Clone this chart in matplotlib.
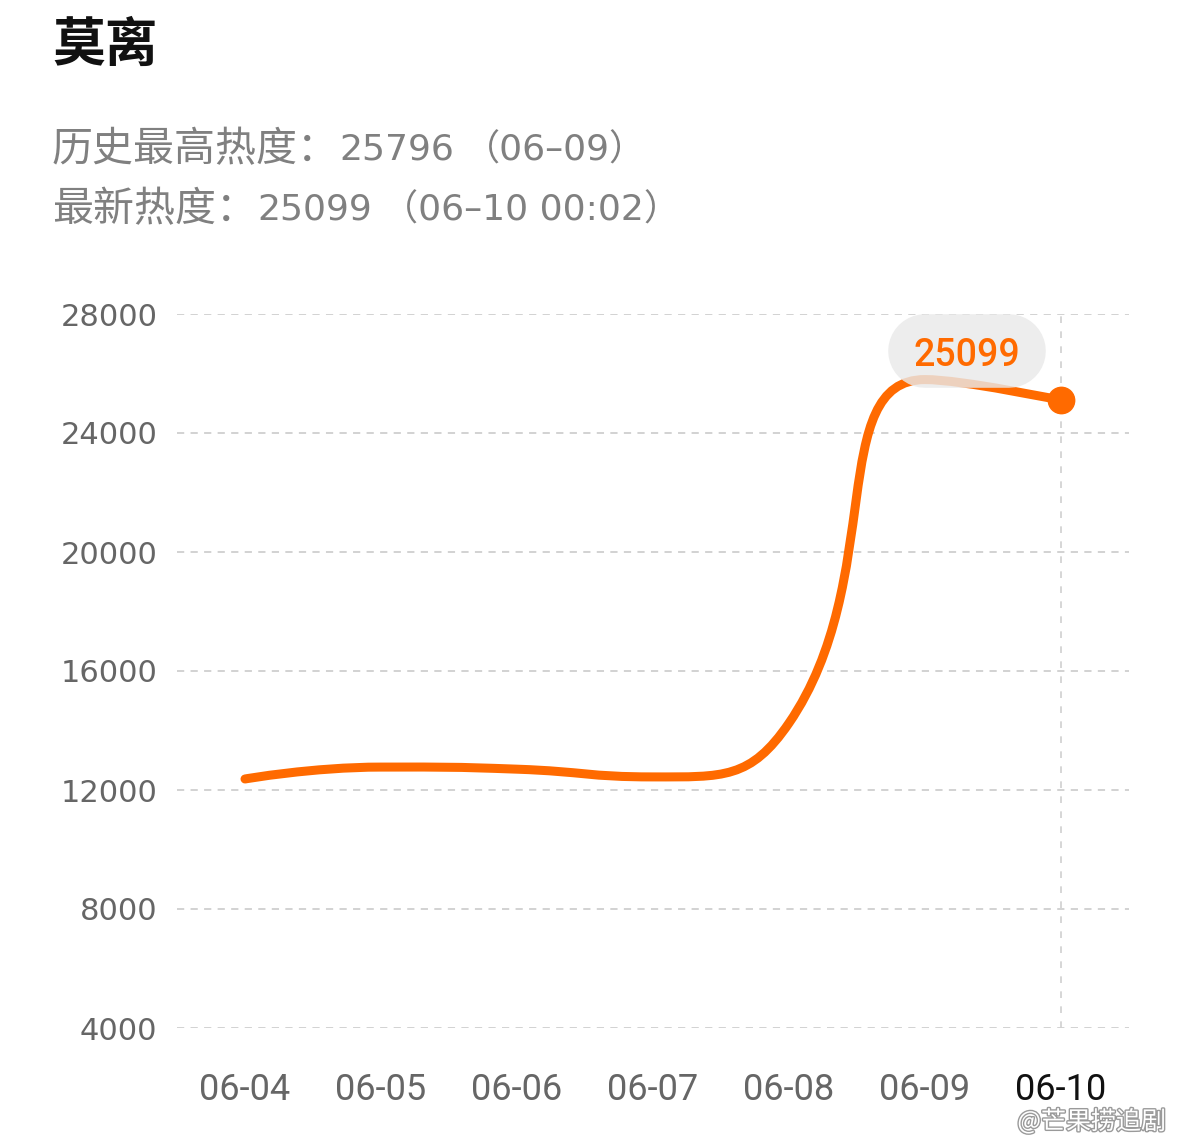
import numpy as np
import matplotlib
matplotlib.use("Agg")
import matplotlib.pyplot as plt
from matplotlib.path import Path
from matplotlib.patches import PathPatch
from matplotlib.lines import Line2D
from matplotlib.transforms import IdentityTransform
import matplotlib.patheffects as pe

plt.rcParams['font.family'] = ['Noto Sans CJK SC', 'DejaVu Sans']

# data
dates = ['06-04', '06-05', '06-06', '06-07', '06-08', '06-09', '06-10']
heat = [12370, 12770, 12700, 12440, 14250, 25796, 25099]
yticks = [4000, 8000, 12000, 16000, 20000, 24000, 28000]
title = '莫离'
line1 = ['历史最高热度：', '25796', '（06–09）']
line2 = ['最新热度：', '25099', '（06–10 00:02）']
latest_label = '25099'

ORANGE = '#ff6a00'
W, H = 1179, 1147

fig = plt.figure(figsize=(W / 100, H / 100), dpi=100)
ax = fig.add_axes([177 / W, 1 - 1028 / H, 952 / W, 714 / H])
x = np.arange(len(dates))
ax.set_xlim(-0.5, len(dates) - 0.5)
ax.set_ylim(4000, 28000)

for s in ax.spines.values():
    s.set_visible(False)
ax.set_yticks(yticks)
ax.set_yticklabels([str(v) for v in yticks], family='DejaVu Sans', fontsize=22, color='#666666')
ax.set_xticks(x)
ax.set_xticklabels(dates, family='Roboto', fontsize=26, color='#666666')
ax.get_xticklabels()[-1].set_color('#111111')
ax.tick_params(length=0)
ax.tick_params(axis='y', pad=14)
ax.tick_params(axis='x', pad=32)
for v in yticks:
    ax.axhline(v, color='#cfcfcf', lw=1.3, ls=(0, (4, 3.5)), zorder=1)
ax.plot([x[-1], x[-1]], [4000, 28000], color='#d0d0d0', lw=1.2, ls=(0, (4, 5)), zorder=1)


def smooth_path(xs, ys, smooth=0.5):
    # bezier smoothing in screen space; flat tangent at local peaks/dips
    pts = ax.transData.transform(np.column_stack([xs, ys]))
    verts = [pts[0]]
    codes = [Path.MOVETO]
    cp0 = pts[0].copy()
    n = len(pts)
    for i in range(1, n):
        p = pts[i]
        prev = pts[i - 1]
        if i == n - 1:
            ncp0 = p.copy()
            ncp1 = p.copy()
        else:
            nxt = pts[i + 1]
            v = nxt - prev
            if (p[1] - prev[1]) * (nxt[1] - p[1]) <= 0:
                v[1] = 0
            l0 = np.hypot(*(p - prev))
            l1 = np.hypot(*(nxt - p))
            r = l1 / (l0 + l1)
            ncp0 = p - v * smooth * (1 - r)
            ncp1 = p + v * smooth * r
        verts += [cp0, ncp0, p]
        codes += [Path.CURVE4] * 3
        cp0 = ncp1
    verts = ax.transData.inverted().transform(np.array(verts))
    return Path(verts, codes)


ax.add_patch(PathPatch(smooth_path(x, heat), fc='none', ec=ORANGE, lw=6.5,
                       capstyle='round', joinstyle='round', zorder=3, clip_on=False))
ax.plot(x[-1], heat[-1], 'o', color=ORANGE, ms=19, zorder=4, clip_on=False)

# pill shaped label above the last point
px, py = ax.transData.transform((x[-1], heat[-1]))
bx, by = px - 94, py + 49
ax.add_line(Line2D([bx - 42, bx + 42], [by, by], transform=IdentityTransform(), lw=53,
                   color='#e9e9e9', alpha=0.82, solid_capstyle='round', zorder=5))
ax.text(bx, by, latest_label, transform=IdentityTransform(), ha='center', va='center_baseline',
        family='Roboto', fontweight='medium', fontsize=27, color=ORANGE, zorder=6)

fig.text(52 / W, 1 - 45 / H, title, fontsize=38, fontweight='bold', color='#111111',
         ha='left', va='center')

# header lines: CJK part, number, bracketed date
sub_font = ['DejaVu Sans', 'Noto Sans CJK SC']
for parts, yy, xs in [(line1, 150, (52, 339, 464)), (line2, 210, (52, 257, 382))]:
    fig.text(xs[0] / W, 1 - yy / H, parts[0], fontsize=29.5, color='#808080', ha='left',
             va='center')
    fig.text(xs[1] / W, 1 - yy / H, parts[1], fontsize=26, color='#808080', ha='left',
             va='center', family=sub_font)
    fig.text(xs[2] / W, 1 - yy / H, parts[2], fontsize=26, color='#808080', ha='left',
             va='center', family=sub_font)

fig.text(1166 / W, 1 - 1122 / H, '@芒果捞追剧', fontsize=18, color='white', ha='right',
         va='center', path_effects=[pe.withStroke(linewidth=2, foreground='#9a9a9a')])

fig.savefig('out.png', dpi=100, facecolor='white')
